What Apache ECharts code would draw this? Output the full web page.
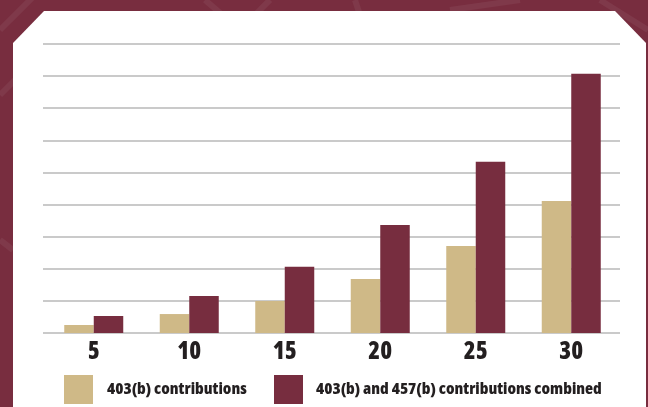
<!DOCTYPE html>
<html>
<head>
<meta charset="utf-8">
<script src="https://cdn.jsdelivr.net/npm/echarts@6/dist/echarts.min.js"></script>
<style>
html,body{margin:0;padding:0;background:#782d3f;}
#chart{width:648px;height:407px;}
</style>
</head>
<body>
<div id="chart"></div>
<script>
// Data (units = one gridline step)
const categories = ['5', '10', '15', '20', '25', '30'];
const series403 = [0.25, 0.59, 1.0, 1.68, 2.71, 4.11];
const seriesCombined = [0.53, 1.15, 2.06, 3.36, 5.33, 8.07];
const seriesNames = ['403(b) contributions', '403(b) and 457(b) contributions combined'];

const BEIGE = '#cfb987';
const MAROON = '#772d3f';
const FONT = '"Open Sans", sans-serif';
const WEIGHT = '800 condensed';

const chart = echarts.init(document.getElementById('chart'), null, {renderer: 'canvas'});

const bgLines = [
  [[0, 30], [40, -10]],
  [[0, 95], [45, 50]],
  [[205, 0], [240, 30]],
  [[240, 30], [270, 0]],
  [[355, 0], [365, 30]],
  [[450, 10], [520, 0]],
  [[600, 0], [648, 30]],
  [[0, 240], [13, 250]]
];

chart.setOption({
  backgroundColor: '#782d3f',
  animation: false,
  graphic: [
    ...bgLines.map(l => ({
      type: 'line', silent: true, z: -10,
      shape: {x1: l[0][0], y1: l[0][1], x2: l[1][0], y2: l[1][1]},
      style: {stroke: 'rgba(255,255,255,0.06)', lineWidth: 6}
    })),
    {
      type: 'polygon', silent: true, z: -5,
      shape: {points: [[13, 43], [44, 11], [615, 11], [646, 43], [646, 410], [13, 410]]},
      style: {fill: '#ffffff'}
    }
  ],
  grid: [
    {left: 43, right: 28, top: 44, bottom: 74},
    {left: 46, right: 29, top: 44, bottom: 74}
  ],
  legend: [
    {
      data: [seriesNames[0]], left: 64, top: 375,
      itemWidth: 29, itemHeight: 29, icon: 'rect', padding: 0,
      textStyle: {fontFamily: FONT, fontWeight: WEIGHT, fontSize: 16.6, color: '#231f20', padding: [0, 0, 0, 9]}
    },
    {
      data: [seriesNames[1]], left: 274, top: 375,
      itemWidth: 29, itemHeight: 29, icon: 'rect', padding: 0,
      textStyle: {fontFamily: FONT, fontWeight: WEIGHT, fontSize: 16.6, color: '#231f20', padding: [0, 0, 0, 8]}
    }
  ],
  xAxis: [
    {gridIndex: 0, type: 'value', show: false, min: 0, max: 1},
    {
      gridIndex: 1, type: 'category', data: categories,
      axisLine: {show: false}, axisTick: {show: false},
      axisLabel: {fontFamily: FONT, fontWeight: WEIGHT, fontSize: 24, color: '#231f20', margin: 7}
    }
  ],
  yAxis: [
    {
      gridIndex: 0, type: 'value', min: 0, max: 9, interval: 1,
      axisLine: {show: false}, axisTick: {show: false}, axisLabel: {show: false},
      splitLine: {show: true, lineStyle: {color: '#cacaca', width: 2}}
    },
    {
      gridIndex: 1, type: 'value', min: 0, max: 9, interval: 1,
      axisLine: {show: false}, axisTick: {show: false}, axisLabel: {show: false},
      splitLine: {show: false}
    }
  ],
  series: [
    {
      name: seriesNames[0], type: 'bar', xAxisIndex: 1, yAxisIndex: 1,
      data: series403, barWidth: 29.5, barGap: '0%',
      itemStyle: {color: BEIGE}
    },
    {
      name: seriesNames[1], type: 'bar', xAxisIndex: 1, yAxisIndex: 1,
      data: seriesCombined, barWidth: 29.5, barGap: '0%',
      itemStyle: {color: MAROON}
    }
  ]
});
</script>
</body>
</html>
